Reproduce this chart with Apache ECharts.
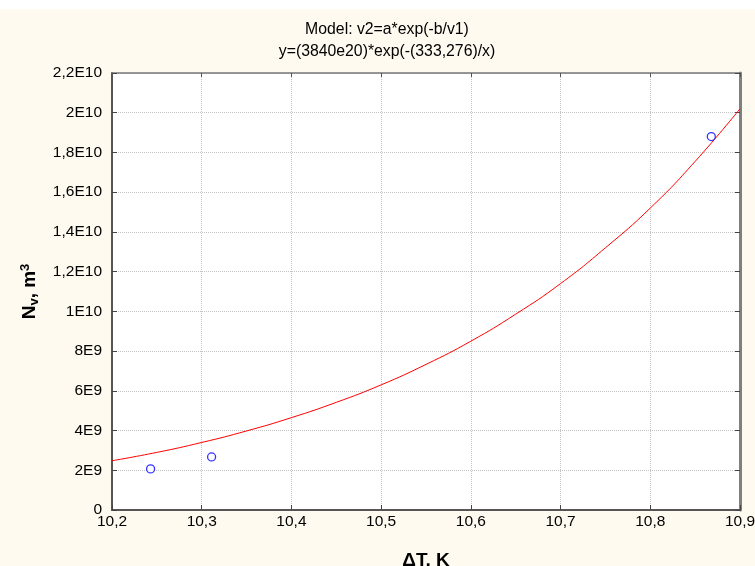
<!DOCTYPE html>
<html>
<head>
<meta charset="utf-8">
<script src="https://cdn.jsdelivr.net/npm/echarts@6/dist/echarts.min.js"></script>
<style>
html,body{margin:0;padding:0;background:#fff;}
#chart{width:755px;height:566px;}
</style>
</head>
<body>
<div id="chart"></div>
<script>
// Data
var pointX = [10.243, 10.311, 10.868];
var pointY = [2.07e9, 2.67e9, 1.88e10];
var curveX = [10.2, 10.25, 10.3, 10.35, 10.4, 10.45, 10.5, 10.55, 10.6, 10.65, 10.7, 10.75, 10.8, 10.85, 10.9];
var curveY = [2.48e9, 2.9e9, 3.4e9, 3.98e9, 4.65e9, 5.42e9, 6.3e9, 7.33e9, 8.5e9, 9.86e9, 1.14e10, 1.32e10, 1.52e10, 1.755e10, 2.02e10];
var xTickValues = [10.2, 10.3, 10.4, 10.5, 10.6, 10.7, 10.8, 10.9];
var xTickLabels = ['10,2', '10,3', '10,4', '10,5', '10,6', '10,7', '10,8', '10,9'];
var yTickValues = [0, 2e9, 4e9, 6e9, 8e9, 1e10, 1.2e10, 1.4e10, 1.6e10, 1.8e10, 2e10, 2.2e10];
var yTickLabels = ['0', '2E9', '4E9', '6E9', '8E9', '1E10', '1,2E10', '1,4E10', '1,6E10', '1,8E10', '2E10', '2,2E10'];
var titleLines = ['Model: v2=a*exp(-b/v1)', 'y=(3840e20)*exp(-(333,276)/x)'];

function lookup(vals, labels, v) {
  for (var i = 0; i < vals.length; i++) {
    if (Math.abs(vals[i] - v) < Math.abs(vals[1] - vals[0]) * 0.01) return labels[i];
  }
  return '';
}

var FONT = '"Liberation Sans", Arial, sans-serif';
var chart = echarts.init(document.getElementById('chart'));
var curve = curveX.map(function (x, i) { return [x, curveY[i]]; });
var pts = pointX.map(function (x, i) { return [x, pointY[i]]; });

chart.setOption({
  backgroundColor: '#fffaf0',
  animation: false,
  graphic: [
    { type: 'rect', left: 0, top: 0, shape: { width: 755, height: 9 }, style: { fill: '#ffffff' }, silent: true },
    { type: 'text', x: 387, y: 30, style: { text: titleLines[0], fill: '#000', font: '15.8px ' + FONT, textAlign: 'center', textVerticalAlign: 'middle' } },
    { type: 'text', x: 387, y: 52, style: { text: titleLines[1], fill: '#000', font: '15.8px ' + FONT, textAlign: 'center', textVerticalAlign: 'middle' } }
  ],
  grid: { left: 112, right: 15, top: 73, bottom: 56, show: true, backgroundColor: '#ffffff', borderWidth: 0,
    outerBoundsMode: 'none', containLabel: false },
  xAxis: [{
    type: 'value', min: 10.2, max: 10.9, interval: 0.1, position: 'bottom',
    name: 'ΔT, K', nameLocation: 'middle', nameGap: 41,
    nameTextStyle: { fontFamily: FONT, fontSize: 19, fontWeight: 'bold', color: '#000' },
    axisLine: { show: true, onZero: false, lineStyle: { color: '#555', width: 2 } },
    axisTick: { show: true, inside: true, length: 5, lineStyle: { color: '#444' } },
    axisLabel: { margin: 4, fontFamily: FONT, fontSize: 15.5, color: '#000',
      formatter: function (v) { return lookup(xTickValues, xTickLabels, v); } },
    splitLine: { show: true, lineStyle: { type: 'dotted', color: '#c4c4c4', width: 1 } }
  }, {
    type: 'value', min: 10.2, max: 10.9, interval: 0.1, position: 'top',
    axisLine: { show: true, onZero: false, lineStyle: { color: '#777', width: 1.5 } },
    axisTick: { show: true, inside: true, length: 4, lineStyle: { color: '#555' } },
    axisLabel: { show: false }, splitLine: { show: false }
  }],
  yAxis: [{
    type: 'value', min: 0, max: 2.2e10, interval: 2e9, position: 'left',
    name: '{b|N}{s|v}{b|, m}{p|3}', nameLocation: 'middle', nameGap: 71, nameRotate: 90,
    nameTextStyle: { fontFamily: FONT, color: '#000',
      rich: {
        b: { fontFamily: FONT, fontSize: 19, fontWeight: 'bold', color: '#000' },
        s: { fontFamily: FONT, fontSize: 13, fontWeight: 'bold', color: '#000', verticalAlign: 'bottom', padding: [9, 0, 0, 0] },
        p: { fontFamily: FONT, fontSize: 13, fontWeight: 'bold', color: '#000', verticalAlign: 'top', padding: [0, 0, 9, 0] }
      } },
    axisLine: { show: true, onZero: false, lineStyle: { color: '#555', width: 2 } },
    axisTick: { show: true, inside: true, length: 5, lineStyle: { color: '#444' } },
    axisLabel: { margin: 10, fontFamily: FONT, fontSize: 15.5, color: '#000',
      formatter: function (v) { return lookup(yTickValues, yTickLabels, v); } },
    splitLine: { show: true, lineStyle: { type: 'dotted', color: '#c4c4c4', width: 1 } }
  }, {
    type: 'value', min: 0, max: 2.2e10, interval: 2e9, position: 'right',
    axisLine: { show: true, onZero: false, lineStyle: { color: '#808080', width: 3 } },
    axisTick: { show: true, inside: true, length: 5, lineStyle: { color: '#444' } },
    axisLabel: { show: false }, splitLine: { show: false }
  }],
  series: [{
    type: 'line', data: curve, smooth: true, showSymbol: false, symbol: 'none',
    lineStyle: { color: '#ff0000', width: 1 }, z: 2
  }, {
    type: 'scatter', data: pts, symbol: 'circle', symbolSize: 8,
    itemStyle: { color: '#ffffff', borderColor: '#0000ff', borderWidth: 1.3 }, z: 3
  }]
});
</script>
</body>
</html>
